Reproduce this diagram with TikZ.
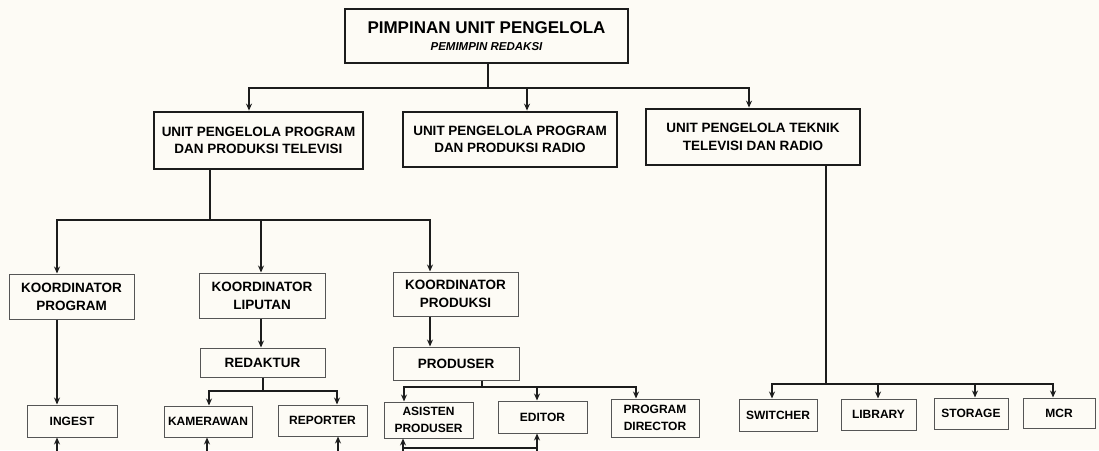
\documentclass[tikz,border=0pt]{standalone}
\usepackage{fontspec}
\setmainfont{Liberation Sans}
\usetikzlibrary{arrows.meta}
\definecolor{bg}{HTML}{FDFBF5}
\definecolor{ink}{HTML}{1C1C1C}
\definecolor{thinline}{HTML}{555555}
\begin{document}
\begin{tikzpicture}[x=1pt,y=-1pt,
  bigbox/.style={draw=ink,line width=2.8pt,inner sep=2pt,align=center,font=\fontsize{13.5}{17.5}\selectfont\bfseries},
  midbox/.style={draw=thinline,line width=1pt,inner sep=2pt,align=center,font=\fontsize{13.5}{18}\selectfont\bfseries},
  smallbox/.style={draw=thinline,line width=1pt,inner sep=1pt,align=center,font=\fontsize{12}{16.5}\selectfont\bfseries},
  conn/.style={draw=ink,line width=1.5pt},
  arr/.style={conn,-{Stealth[length=7pt,width=6pt]}}]
\fill[bg] (0,0) rectangle (1099,450);
\useasboundingbox (0,0) rectangle (1099,450);

% level 0
\node[bigbox,minimum width=283,minimum height=54,font=\fontsize{17}{17}\selectfont\bfseries] (top) at (486.5,36)
  {PIMPINAN UNIT PENGELOLA\\{\fontsize{11.5}{17}\selectfont\bfseries\itshape PEMIMPIN REDAKSI}};

% level 1
\node[bigbox,minimum width=209,minimum height=57] (tv) at (258.5,140.5) {UNIT PENGELOLA PROGRAM\\DAN PRODUKSI TELEVISI};
\node[bigbox,minimum width=214,minimum height=55] (radio) at (510,139.5) {UNIT PENGELOLA PROGRAM\\DAN PRODUKSI RADIO};
\node[bigbox,minimum width=214,minimum height=56] (teknik) at (753,137) {UNIT PENGELOLA TEKNIK\\TELEVISI DAN RADIO};

% level 2
\node[midbox,minimum width=125,minimum height=45] (kprog) at (71.5,296.5) {KOORDINATOR\\PROGRAM};
\node[midbox,minimum width=126,minimum height=45] (klip) at (262,295.5) {KOORDINATOR\\LIPUTAN};
\node[midbox,minimum width=125,minimum height=44] (kprod) at (455.5,294) {KOORDINATOR\\PRODUKSI};

% level 3
\node[midbox,minimum width=125,minimum height=29] (redaktur) at (262.5,362.5) {REDAKTUR};
\node[midbox,minimum width=126,minimum height=33] (produser) at (456,363.5) {PRODUSER};

% level 4
\node[smallbox,minimum width=90,minimum height=32] (ingest) at (72,421) {INGEST};
\node[smallbox,minimum width=88,minimum height=31] (kamera) at (208,421.5) {KAMERAWAN};
\node[smallbox,minimum width=89,minimum height=31] (reporter) at (322.5,420.5) {REPORTER};
\node[smallbox,minimum width=89,minimum height=36] (asisten) at (428.5,420) {ASISTEN\\PRODUSER};
\node[smallbox,minimum width=89,minimum height=32] (editor) at (542.5,417) {EDITOR};
\node[smallbox,minimum width=88,minimum height=38] (progdir) at (655,418) {PROGRAM\\DIRECTOR};
\node[smallbox,minimum width=78,minimum height=32] (switcher) at (778,415) {SWITCHER};
\node[smallbox,minimum width=75,minimum height=31] (library) at (878.5,414.5) {LIBRARY};
\node[smallbox,minimum width=74,minimum height=31] (storage) at (971,413.5) {STORAGE};
\node[smallbox,minimum width=72,minimum height=30] (mcr) at (1059,413) {MCR};

% junction coordinates
\coordinate (j0) at (488,88);
\coordinate (j1) at (210,220);
\coordinate (j2) at (263,391);
\coordinate (j3) at (482,387);
\coordinate (j4) at (826,384);

% top -> level 1
\draw[arr] (top.south -| j0) -- (j0) -- (249,88) -- (tv.north -| 249,0);
\draw[arr] (j0) -- (527,88) -- (radio.north -| 527,0);
\draw[arr] (j0) -- (749,88) -- (teknik.north -| 749,0);

% tv -> koordinators
\draw[arr] (tv.south -| j1) -- (j1) -- (57,220) -- (kprog.north -| 57,0);
\draw[arr] (j1) -- (261,220) -- (klip.north -| 261,0);
\draw[arr] (j1) -- (430,220) -- (kprod.north -| 430,0);

% koordinator -> next
\draw[arr] (kprog.south -| 57,0) -- (ingest.north -| 57,0);
\draw[arr] (klip.south -| 261,0) -- (redaktur.north -| 261,0);
\draw[arr] (kprod.south -| 430,0) -- (produser.north -| 430,0);

% redaktur -> kamerawan, reporter
\draw[arr] (redaktur.south -| j2) -- (j2) -- (209,391) -- (kamera.north -| 209,0);
\draw[arr] (j2) -- (337,391) -- (reporter.north -| 337,0);

% produser -> asisten, editor, program director
\draw[arr] (produser.south -| j3) -- (j3) -- (404,387) -- (asisten.north -| 404,0);
\draw[arr] (j3) -- (537,387) -- (editor.north -| 537,0);
\draw[arr] (j3) -- (636,387) -- (progdir.north -| 636,0);

% teknik -> technical units
\draw[arr] (teknik.south -| j4) -- (j4) -- (772,384) -- (switcher.north -| 772,0);
\draw[arr] (j4) -- (878,384) -- (library.north -| 878,0);
\draw[arr] (j4) -- (975,384) -- (storage.north -| 975,0);
\draw[arr] (j4) -- (1053,384) -- (mcr.north -| 1053,0);

% lines coming up from below the picture's edge
\coordinate (b1) at (57,452);
\coordinate (b2) at (207,452);
\coordinate (b3) at (338,452);
\coordinate (b4) at (403,452);
\coordinate (b5) at (537,452);
\draw[arr] (b1) -- (ingest.south -| b1);
\draw[arr] (b2) -- (kamera.south -| b2);
\draw[arr] (b3) -- (reporter.south -| b3);
\draw[arr] (b4) -- (asisten.south -| b4);
\draw[arr] (b5) -- (editor.south -| b5);
\draw[conn] (403,448) -- (537,448);
\end{tikzpicture}
\end{document}
